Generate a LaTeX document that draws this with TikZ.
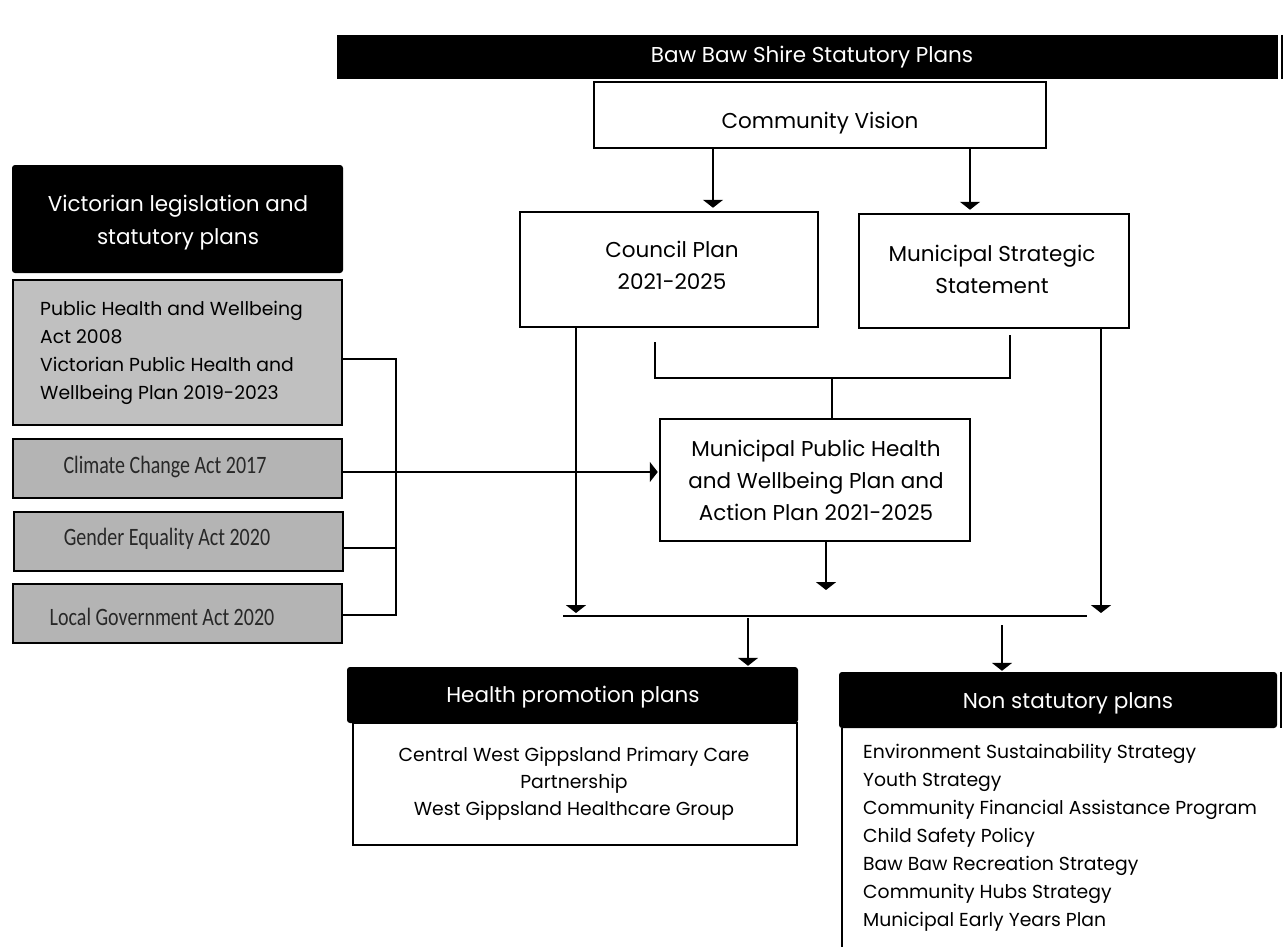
\documentclass[tikz,border=0pt]{standalone}
\usepackage{fontspec}
\setmainfont{Poppins}
\newfontfamily\condfont[FakeStretch=0.8]{Carlito}
\usetikzlibrary{arrows.meta}
\definecolor{gA}{RGB}{192,192,192}
\definecolor{gB}{RGB}{180,180,180}
\definecolor{gtxt}{RGB}{40,40,40}
\begin{document}
\begin{tikzpicture}[x=1pt,y=-1pt,
  conn/.style={line width=2pt},
  arr/.style={conn,-{Triangle[width=20pt,length=8pt]},shorten >=3pt},
  wbox/.style={draw,line width=2.5pt,fill=white,inner sep=0pt},
  bhead/.style={fill=black,inner sep=0pt},
  gbox/.style={draw,line width=2.5pt,inner sep=0pt},
  boxtxt/.style={align=center,font=\fontsize{21.5}{32}\selectfont,inner sep=0pt},
  headtxt/.style={align=center,text=white,font=\fontsize{21.5}{33}\selectfont,inner sep=0pt},
  condtxt/.style={text=gtxt,font=\condfont\fontsize{25}{28}\selectfont,inner sep=0pt},
  smalltxt/.style={font=\fontsize{18.8}{28}\selectfont,inner sep=0pt}]
\useasboundingbox (0,0) rectangle (1285,947);

% top bar
\node[bhead,minimum width=941,minimum height=44] (top) at (807.5,57) {};
\node[headtxt] (toptxt) at (812,57) {Baw Baw Shire Statutory Plans};
\draw[line width=1.5pt] ([xshift=4pt]top.north east) -- ([xshift=4pt]top.south east);

% main boxes
\node[wbox,minimum width=452,minimum height=66] (cv) at (820,115) {};
\node[boxtxt] (cvtxt) at (820,123) {Community Vision};
\node[wbox,minimum width=298,minimum height=115] (cp) at (669,269.5) {};
\node[boxtxt] (cptxt) at (672,265) {Council Plan\\2021-2025};
\node[wbox,minimum width=270,minimum height=114] (ms) at (994,271) {};
\node[boxtxt] (mstxt) at (992,269) {Municipal Strategic\\Statement};
\node[wbox,minimum width=310,minimum height=122] (mp) at (815,480) {};
\node[boxtxt] (mptxt) at (816,480) {Municipal Public Health\\and Wellbeing Plan and\\Action Plan 2021-2025};

% left column
\node[bhead,rounded corners=3pt,minimum width=331,minimum height=108] (vh) at (177.5,219) {};
\node[headtxt] (vhtxt) at (178,223) {Victorian legislation and\\statutory plans};
\node[gbox,fill=gA,minimum width=329,minimum height=145] (g1) at (177.5,352.5) {};
\node[smalltxt,anchor=west,align=left] (g1txt) at (40,353) {Public Health and Wellbeing\\Act 2008\\Victorian Public Health and\\Wellbeing Plan 2019-2023};
\node[gbox,fill=gB,minimum width=329,minimum height=59] (cc) at (177.5,468.5) {};
\node[condtxt] (cctxt) at (165,467) {Climate Change Act 2017};
\node[gbox,fill=gB,minimum width=329,minimum height=59] (ge) at (178.5,541.5) {};
\node[condtxt] (getxt) at (167,539) {Gender Equality Act 2020};
\node[gbox,fill=gB,minimum width=329,minimum height=59] (lg) at (177.5,613.5) {};
\node[condtxt] (lgtxt) at (162,617) {Local Government Act 2020};

% bottom left
\node[draw,line width=2pt,fill=white,minimum width=444,minimum height=122,inner sep=0pt] (hb) at (575,784) {};
\node[bhead,rounded corners=3pt,minimum width=451,minimum height=56] (hp) at (572.5,695) {};
\node[headtxt] (hptxt) at (573,697) {Health promotion plans};
\node[smalltxt,align=center,font=\fontsize{18.8}{27}\selectfont] (hbtxt) at (574,784) {Central West Gippsland Primary Care\\Partnership\\West Gippsland Healthcare Group};

% bottom right
\node[bhead,rounded corners=3pt,minimum width=438,minimum height=56] (ns) at (1058,700) {};
\node[headtxt] (nstxt) at (1068,703) {Non statutory plans};
\draw[line width=1.5pt] ([xshift=4pt]ns.north east) -- ([xshift=4pt]ns.south east);
\node[smalltxt,anchor=north west,align=left] (nl) at (863,744) {Environment Sustainability Strategy\\Youth Strategy\\Community Financial Assistance Program\\Child Safety Policy\\Baw Baw Recreation Strategy\\Community Hubs Strategy\\Municipal Early Years Plan};
\coordinate (nb) at (842,947);
\draw[line width=1.5pt] (nb |- ns.south) -- (nb);

% connectors top
\coordinate (a1) at (713,0);
\coordinate (a2) at (970,0);
\draw[arr] (a1 |- cv.south) -- (a1 |- cp.north);
\draw[arr] (a2 |- cv.south) -- (a2 |- ms.north);

% bracket to MPHWP
\coordinate (bl) at (655,342);
\coordinate (br) at (1010,335);
\coordinate (bm) at (832,378);
\draw[conn] (bl) -- (bl |- bm) -- (br |- bm) -- (br);
\draw[conn] (bm) -- (bm |- mp.north);

% left bracket
\coordinate (j1) at (396,359);
\coordinate (j2) at (396,472);
\coordinate (j3) at (396,548);
\coordinate (j4) at (396,615);
\draw[conn] (g1.east |- j1) -- (j1) -- (j4) -- (lg.east |- j4);
\draw[conn] (ge.east |- j3) -- (j3);
\draw[arr,shorten >=1pt] (cc.east |- j2) -- (mp.west |- j2);

% long verticals
\coordinate (lv) at (576,616);
\coordinate (rv) at (1101,616);
\coordinate (mv) at (826,593);
\draw[arr] (lv |- cp.south) -- (lv);
\draw[arr] (rv |- ms.south) -- (rv);
\draw[arr] (mv |- mp.south) -- (mv);

% horizontal distribution line
\coordinate (hl) at (563,616);
\coordinate (hr) at (1087,616);
\draw[conn] (hl) -- (hr);
\coordinate (d1) at (748,618);
\coordinate (d2) at (1002,625);
\draw[arr,shorten >=1pt] (d1) -- (d1 |- hp.north);
\draw[arr,shorten >=1pt] (d2) -- (d2 |- ns.north);
\end{tikzpicture}
\end{document}
